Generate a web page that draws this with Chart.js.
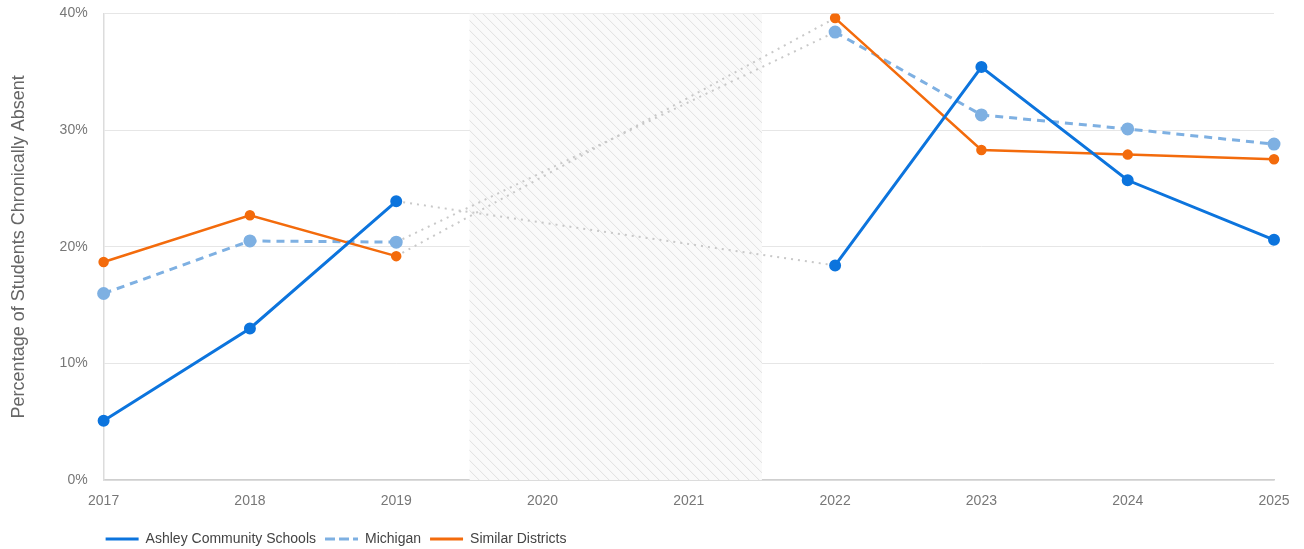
<!DOCTYPE html>
<html>
<head>
<meta charset="utf-8">
<script src="https://cdn.jsdelivr.net/npm/chart.js@4"></script>
<style>
  html, body { margin: 0; padding: 0; background: #fff; }
  #wrap { width: 1304px; height: 549px; position: relative; }
</style>
</head>
<body>
<div id="wrap"><canvas id="c"></canvas></div>
<script>
const years = ['2017', '2018', '2019', '2020', '2021', '2022', '2023', '2024', '2025'];
const ashley = [5.1, 13.0, 23.9, null, null, 18.4, 35.4, 25.7, 20.6];
const michigan = [16.0, 20.5, 20.4, null, null, 38.4, 31.3, 30.1, 28.8];
const similar = [18.7, 22.7, 19.2, null, null, 39.6, 28.3, 27.9, 27.5];
const yTicks = [0, 10, 20, 30, 40];
const covidStart = 2.5, covidEnd = 4.5;

const GAP_COLOR = '#c9c9c9';
const isGap = ctx => ctx.p0.skip || ctx.p1.skip || (ctx.p1DataIndex - ctx.p0DataIndex > 1);

function seg() {
  return {
    borderColor: ctx => isGap(ctx) ? GAP_COLOR : undefined,
    borderDash: ctx => isGap(ctx) ? [2, 5] : undefined,
    borderWidth: ctx => isGap(ctx) ? 2 : undefined
  };
}

const hatchPlugin = {
  id: 'hatch',
  beforeDatasetsDraw(chart) {
    const { ctx, chartArea, scales } = chart;
    const x0 = scales.x.getPixelForValue(covidStart);
    const x1 = scales.x.getPixelForValue(covidEnd);
    const top = chartArea.top, bottom = chartArea.bottom;
    ctx.save();
    ctx.beginPath();
    ctx.rect(x0, top, x1 - x0, bottom - top);
    ctx.clip();
    ctx.fillStyle = '#fafafa';
    ctx.fillRect(x0, top, x1 - x0, bottom - top);
    ctx.strokeStyle = '#e0e0e0';
    ctx.lineWidth = 1;
    const h = bottom - top;
    for (let s = x0 - h; s < x1 + 10; s += 10) {
      ctx.beginPath();
      ctx.moveTo(s, top);
      ctx.lineTo(s + h, bottom);
      ctx.stroke();
    }
    ctx.restore();
  }
};

const legendShift = {
  id: 'legendShift',
  afterLayout(chart) {
    if (chart.legend) {
      chart.legend.left -= 7;
      chart.legend.right -= 7;
    }
  }
};

const FONT = '"Liberation Sans", Arial, sans-serif';

new Chart(document.getElementById('c'), {
  type: 'line',
  data: {
    labels: years,
    datasets: [
      {
        label: 'Ashley Community Schools',
        data: ashley,
        borderColor: '#0c74dd',
        backgroundColor: '#0c74dd',
        borderWidth: 3,
        pointRadius: 4.5,
        pointHoverRadius: 4.5,
        spanGaps: true,
        segment: seg(),
        order: 1
      },
      {
        label: 'Michigan',
        data: michigan,
        borderColor: '#7eb0e2',
        backgroundColor: '#7eb0e2',
        borderWidth: 3,
        borderDash: [8, 6],
        pointRadius: 5,
        pointHoverRadius: 5,
        spanGaps: true,
        segment: seg(),
        order: 3
      },
      {
        label: 'Similar Districts',
        data: similar,
        borderColor: '#f36b0c',
        backgroundColor: '#f36b0c',
        borderWidth: 2.5,
        pointRadius: 4,
        pointHoverRadius: 4,
        spanGaps: true,
        segment: seg(),
        order: 2
      }
    ]
  },
  options: {
    responsive: true,
    maintainAspectRatio: false,
    animation: false,
    layout: { padding: { top: 0, right: 30, left: 4, bottom: -7 } },
    plugins: {
      tooltip: { enabled: false },
      legend: {
        position: 'bottom',
        align: 'start',
        fullSize: false,
        labels: {
          color: '#444',
          font: { family: FONT, size: 14 },
          boxWidth: 33,
          boxHeight: 0,
          padding: 9,
          generateLabels(chart) {
            return chart.data.datasets.map((ds, i) => ({
              text: ds.label,
              fillStyle: 'transparent',
              strokeStyle: ds.borderColor,
              lineWidth: 3,
              lineDash: ds.borderDash || [],
              fontColor: '#444',
              hidden: false,
              datasetIndex: i
            }));
          }
        }
      }
    },
    scales: {
      x: {
        offset: false,
        grid: { display: false, drawTicks: false },
        border: { display: true, color: '#cfcfcf', width: 1.5 },
        ticks: { color: '#777', font: { family: FONT, size: 14 }, padding: 13, maxRotation: 0 }
      },
      y: {
        min: 0,
        max: 40,
        afterBuildTicks(axis) { axis.ticks = yTicks.map(v => ({ value: v })); },
        grid: { color: '#e6e6e6', drawTicks: true, tickLength: 11, tickColor: 'rgba(0,0,0,0)', lineWidth: 1 },
        border: { display: true, color: '#dcdcdc', width: 1.5 },
        ticks: { color: '#777', font: { family: FONT, size: 14 }, padding: 5, callback: v => v + '%' },
        title: { display: true, text: 'Percentage of Students Chronically Absent', color: '#666', font: { family: FONT, size: 18 }, padding: { bottom: 25 } }
      }
    }
  },
  plugins: [hatchPlugin, legendShift]
});
</script>
</body>
</html>
